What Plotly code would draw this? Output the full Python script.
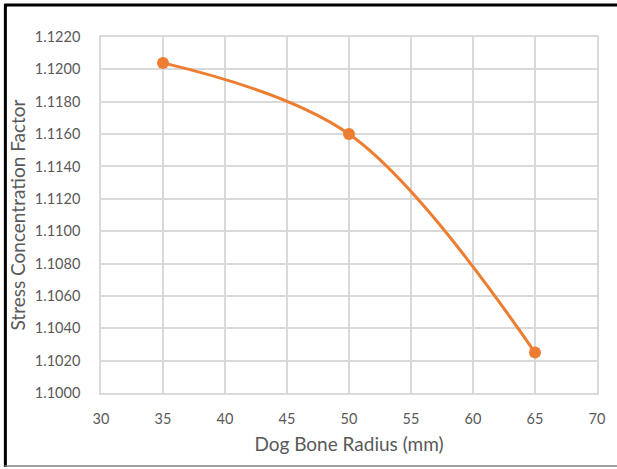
import plotly.graph_objects as go

# Dog bone fillet radius vs. stress concentration factor
radius_mm = [35, 50, 65]
stress_factor = [1.1204, 1.1160, 1.1025]

x_ticks = [30, 35, 40, 45, 50, 55, 60, 65, 70]
y_ticks = [1.1000, 1.1020, 1.1040, 1.1060, 1.1080, 1.1100, 1.1120,
           1.1140, 1.1160, 1.1180, 1.1200, 1.1220]

ORANGE = "#ED7D31"
GRID = "#D9D9D9"
TEXT = "#595959"
FONT = "Lato, Open Sans, sans-serif"

fig = go.Figure(
    go.Scatter(
        x=radius_mm,
        y=stress_factor,
        mode="lines+markers",
        line=dict(color=ORANGE, width=3, shape="spline", smoothing=1.0),
        marker=dict(color=ORANGE, size=12),
        showlegend=False,
    )
)

W, H = 617, 469
L, R, T, B = 101, 18, 37, 76
pw, ph = W - L - R, H - T - B


def px_x(p):
    return (p - L) / pw


def px_y(p):
    return (H - B - p) / ph


fig.update_layout(
    width=W,
    height=H,
    margin=dict(l=L, r=R, t=T, b=B),
    paper_bgcolor="white",
    plot_bgcolor="white",
    font=dict(family=FONT, color=TEXT, size=14),
    xaxis=dict(
        range=[30, 70],
        tickvals=x_ticks,
        ticktext=[str(v) for v in x_ticks],
        showgrid=True,
        gridcolor=GRID,
        gridwidth=1.5,
        zeroline=False,
        showline=True,
        linecolor=GRID,
        linewidth=1.5,
        mirror=True,
        ticks="",
        ticklabelstandoff=12,
        tickfont=dict(size=14.5, color=TEXT),
        title=dict(text="Dog Bone Radius (mm)", font=dict(size=19, color=TEXT), standoff=12),
    ),
    yaxis=dict(
        range=[1.1000, 1.1220],
        tickvals=y_ticks,
        ticktext=[f"{v:.4f}" for v in y_ticks],
        showgrid=True,
        gridcolor=GRID,
        gridwidth=1.5,
        zeroline=False,
        showline=True,
        linecolor=GRID,
        linewidth=1.5,
        mirror=True,
        ticks="",
        ticklabelstandoff=16,
        tickfont=dict(size=14.5, color=TEXT),
        title=dict(text="Stress Concentration Factor", font=dict(size=19, color=TEXT), standoff=4),
    ),
    shapes=[
        # outer frame: black left and top, grey bottom
        dict(type="line", xref="paper", yref="paper",
             x0=px_x(5), x1=px_x(5), y0=px_y(4), y1=px_y(467),
             line=dict(color="black", width=3)),
        dict(type="line", xref="paper", yref="paper",
             x0=px_x(4), x1=px_x(620), y0=px_y(5), y1=px_y(5),
             line=dict(color="black", width=3)),
        dict(type="line", xref="paper", yref="paper",
             x0=px_x(4), x1=px_x(620), y0=px_y(466), y1=px_y(466),
             line=dict(color="#7F7F7F", width=1.5)),
    ],
)

fig.write_html("out.html")
